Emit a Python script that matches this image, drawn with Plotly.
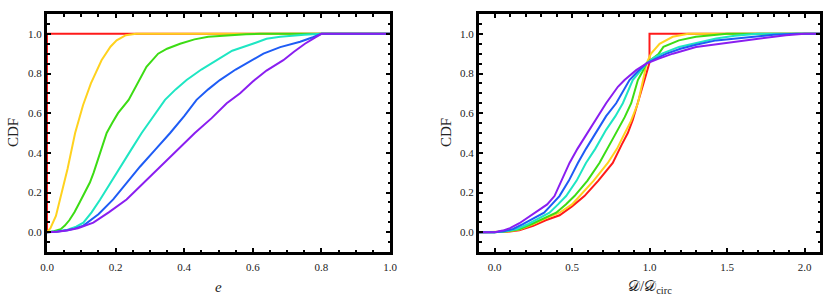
import plotly.graph_objects as go

# ---------- left panel: eccentricity CDFs ----------
e_red_x = [0, 0, 1.0]
e_red_y = [0, 1, 1]
e_yel_x = [0, 0.01, 0.026, 0.038, 0.06, 0.082, 0.105, 0.128, 0.159, 0.185, 0.203, 0.23, 0.26, 1.0]
e_yel_y = [0, 0.02, 0.082, 0.165, 0.32, 0.5, 0.64, 0.75, 0.867, 0.935, 0.967, 0.993, 1.0, 1.0]
e_grn_x = [0, 0.02, 0.04, 0.052, 0.065, 0.08, 0.095, 0.11, 0.125, 0.136, 0.155, 0.174, 0.19, 0.207, 0.238, 0.264, 0.29, 0.324, 0.35, 0.388, 0.43, 0.47, 0.524, 0.58, 0.62, 1.0]
e_grn_y = [0, 0.005, 0.015, 0.033, 0.06, 0.1, 0.15, 0.2, 0.25, 0.3, 0.4, 0.5, 0.55, 0.6, 0.667, 0.75, 0.834, 0.9, 0.925, 0.95, 0.972, 0.985, 0.992, 0.998, 1.0, 1.0]
e_cyn_x = [0, 0.03, 0.06, 0.085, 0.106, 0.13, 0.155, 0.185, 0.213, 0.245, 0.276, 0.31, 0.344, 0.375, 0.407, 0.45, 0.495, 0.54, 0.6, 0.64, 0.68, 0.71, 0.75, 0.8, 1.0]
e_cyn_y = [0, 0.003, 0.012, 0.028, 0.048, 0.1, 0.165, 0.25, 0.33, 0.415, 0.5, 0.585, 0.667, 0.72, 0.767, 0.82, 0.867, 0.915, 0.95, 0.975, 0.985, 0.99, 0.996, 1.0, 1.0]
e_blu_x = [0, 0.03, 0.06, 0.08, 0.106, 0.15, 0.193, 0.23, 0.271, 0.315, 0.359, 0.4, 0.436, 0.47, 0.504, 0.55, 0.6, 0.631, 0.68, 0.738, 0.775, 0.8, 1.0]
e_blu_y = [0, 0.003, 0.01, 0.018, 0.033, 0.09, 0.165, 0.245, 0.33, 0.415, 0.5, 0.585, 0.667, 0.72, 0.767, 0.82, 0.867, 0.9, 0.933, 0.96, 0.983, 1.0, 1.0]
e_pur_x = [0, 0.03, 0.057, 0.09, 0.135, 0.18, 0.232, 0.28, 0.33, 0.38, 0.431, 0.48, 0.524, 0.563, 0.6, 0.64, 0.689, 0.72, 0.752, 0.78, 0.8, 1.0]
e_pur_y = [0, 0.002, 0.008, 0.02, 0.048, 0.1, 0.165, 0.245, 0.33, 0.415, 0.5, 0.575, 0.65, 0.70, 0.76, 0.815, 0.867, 0.91, 0.95, 0.98, 1.0, 1.0]

# ---------- right panel: D / D_circ CDFs ----------
d_red_x = [-0.1, 0.0, 0.08, 0.16, 0.25, 0.33, 0.42, 0.5, 0.58, 0.67, 0.763, 0.82, 0.86, 0.892, 0.925, 0.957, 0.98, 1.0, 1.0, 2.1]
d_red_y = [0, 0, 0.002, 0.01, 0.032, 0.06, 0.085, 0.13, 0.182, 0.26, 0.349, 0.44, 0.5, 0.566, 0.65, 0.733, 0.8, 0.855, 1.0, 1.0]
d_yel_x = [-0.1, 0.0, 0.08, 0.16, 0.247, 0.33, 0.419, 0.5, 0.548, 0.64, 0.731, 0.79, 0.83, 0.88, 0.925, 0.946, 0.965, 0.98, 1.01, 1.065, 1.15, 1.25, 2.1]
d_yel_y = [0, 0, 0.003, 0.013, 0.04, 0.07, 0.098, 0.14, 0.182, 0.26, 0.349, 0.42, 0.483, 0.56, 0.65, 0.72, 0.79, 0.85, 0.9, 0.95, 0.985, 1.0, 1.0]
d_grn_x = [-0.1, 0.0, 0.08, 0.16, 0.237, 0.32, 0.398, 0.46, 0.516, 0.6, 0.677, 0.772, 0.796, 0.84, 0.882, 0.925, 0.955, 0.98, 1.02, 1.06, 1.09, 1.19, 1.3, 1.41, 1.5, 2.1]
d_grn_y = [0, 0, 0.004, 0.015, 0.04, 0.07, 0.098, 0.14, 0.182, 0.26, 0.349, 0.483, 0.516, 0.58, 0.65, 0.767, 0.81, 0.85, 0.875, 0.9, 0.934, 0.967, 0.985, 0.993, 1.0, 1.0]
d_cyn_x = [-0.1, 0.0, 0.07, 0.14, 0.215, 0.29, 0.355, 0.41, 0.462, 0.53, 0.59, 0.65, 0.694, 0.72, 0.78, 0.828, 0.892, 0.94, 0.98, 1.03, 1.08, 1.19, 1.3, 1.43, 1.55, 1.7, 2.1]
d_cyn_y = [0, 0, 0.004, 0.015, 0.04, 0.07, 0.098, 0.14, 0.182, 0.26, 0.349, 0.42, 0.483, 0.516, 0.585, 0.65, 0.767, 0.81, 0.85, 0.88, 0.9, 0.934, 0.955, 0.976, 0.99, 1.0, 1.0]
d_blu_x = [-0.1, 0.0, 0.06, 0.12, 0.183, 0.25, 0.32, 0.37, 0.419, 0.48, 0.538, 0.59, 0.64, 0.667, 0.72, 0.785, 0.871, 0.93, 0.98, 1.04, 1.11, 1.2, 1.3, 1.43, 1.62, 1.8, 1.95, 2.1]
d_blu_y = [0, 0, 0.004, 0.016, 0.04, 0.07, 0.098, 0.14, 0.182, 0.26, 0.349, 0.42, 0.483, 0.516, 0.585, 0.65, 0.767, 0.815, 0.85, 0.875, 0.9, 0.925, 0.945, 0.967, 0.983, 0.995, 1.0, 1.0]
d_pur_x = [-0.1, 0.0, 0.053, 0.1, 0.161, 0.22, 0.29, 0.34, 0.387, 0.44, 0.484, 0.535, 0.587, 0.613, 0.656, 0.72, 0.796, 0.839, 0.914, 0.979, 1.06, 1.15, 1.3, 1.45, 1.69, 1.88, 2.0, 2.1]
d_pur_y = [0, 0, 0.008, 0.02, 0.045, 0.075, 0.115, 0.14, 0.182, 0.27, 0.349, 0.42, 0.483, 0.516, 0.566, 0.65, 0.733, 0.767, 0.817, 0.85, 0.875, 0.9, 0.934, 0.95, 0.976, 0.993, 1.0, 1.0]

colors = ["#ff1a1a", "#ffd21e", "#3cdc14", "#1ee6c3", "#1e5cf5", "#8a1ef0"]

left_series = [(e_red_x, e_red_y), (e_yel_x, e_yel_y), (e_grn_x, e_grn_y),
               (e_cyn_x, e_cyn_y), (e_blu_x, e_blu_y), (e_pur_x, e_pur_y)]
right_series = [(d_red_x, d_red_y), (d_yel_x, d_yel_y), (d_grn_x, d_grn_y),
                (d_cyn_x, d_cyn_y), (d_blu_x, d_blu_y), (d_pur_x, d_pur_y)]

fig = go.Figure()
for (x, y), c in zip(left_series, colors):
    fig.add_trace(go.Scatter(x=x, y=y, mode="lines", line=dict(color=c, width=2),
                             xaxis="x", yaxis="y", showlegend=False, cliponaxis=True))
for (x, y), c in zip(right_series, colors):
    fig.add_trace(go.Scatter(x=x, y=y, mode="lines", line=dict(color=c, width=2),
                             xaxis="x2", yaxis="y2", showlegend=False, cliponaxis=True))

W, H = 830, 307
FONT = "Liberation Serif"

def px_x(p):
    return p / W

def px_y(p):
    return 1 - p / H

def ax(domain, rng, dtick, minor_dtick, anchor):
    return dict(domain=domain, range=rng, dtick=dtick, tick0=0, tickformat=".1f",
                showgrid=False, zeroline=False, showline=True, linecolor="black",
                linewidth=3, mirror="allticks", ticks="inside", ticklen=4, tickwidth=2,
                tickcolor="black", anchor=anchor, automargin=False,
                tickfont=dict(family=FONT, size=11, color="#222"),
                minor=dict(ticks="inside", dtick=minor_dtick, tick0=0, ticklen=2.5,
                           tickwidth=2, tickcolor="black", showgrid=False))

ylo, yhi = px_y(252), px_y(14)
fig.update_layout(
    width=W, height=H, margin=dict(l=0, r=0, t=0, b=0),
    paper_bgcolor="white", plot_bgcolor="white",
    font=dict(family=FONT),
    xaxis=ax([px_x(47), px_x(390)], [0, 1.0], 0.2, 0.05, "y"),
    yaxis=ax([ylo, yhi], [-0.1, 1.1], 0.2, 0.05, "x"),
    xaxis2=ax([px_x(479), px_x(820)], [-0.1, 2.1], 0.5, 0.1, "y2"),
    yaxis2=ax([ylo, yhi], [-0.1, 1.1], 0.2, 0.05, "x2"),
)
fig.layout.xaxis.ticklabelstandoff = 3
fig.layout.xaxis2.ticklabelstandoff = 3

annos = [
    dict(x=px_x(13), y=px_y(133), text="CDF", textangle=-90),
    dict(x=px_x(446), y=px_y(133), text="CDF", textangle=-90),
    dict(x=px_x(218), y=px_y(287), text="<i>e</i>"),
    dict(x=px_x(650), y=px_y(287), text="𝒟/𝒟<sub>circ</sub>"),
]
for a in annos:
    fig.add_annotation(xref="paper", yref="paper", showarrow=False,
                       xanchor="center", yanchor="middle",
                       font=dict(family=FONT, size=15, color="#222"), **a)

fig.write_html("out.html", config={"displayModeBar": False},
               post_script="document.body.style.margin='0px';document.body.style.padding='0px';")
